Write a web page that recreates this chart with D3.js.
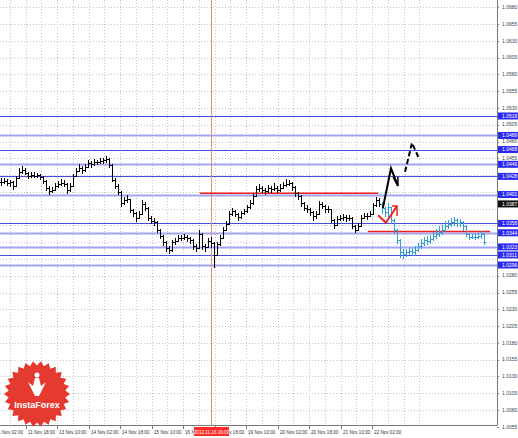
<!DOCTYPE html>
<html><head><meta charset="utf-8">
<script src="https://cdn.jsdelivr.net/npm/d3@7"></script>
<style>body{margin:0;background:#fff}svg{display:block}text{font-family:"Liberation Sans",Arial,sans-serif}</style>
</head><body><svg id="c" width="518" height="438"></svg>
<script>
// ---------- DATA ----------
const histClose = [1.0420,1.0421,1.0418,1.0420,1.0414,1.0426,1.0435,1.0437,1.0433,1.0429,1.0430,1.0429,1.0430,1.0427,1.0421,1.0411,1.0406,1.0408,1.0414,1.0417,1.0418,1.0417,1.0408,1.0414,1.0429,1.0436,1.0440,1.0437,1.0442,1.0448,1.0446,1.0449,1.0449,1.0451,1.0452,1.0454,1.0445,1.0423,1.0414,1.0405,1.0388,1.0393,1.0394,1.0378,1.0373,1.0366,1.0372,1.0387,1.0381,1.0366,1.0362,1.0360,1.0348,1.0339,1.0330,1.0321,1.0318,1.0330,1.0332,1.0336,1.0336,1.0338,1.0336,1.0333,1.0324,1.0321,1.0342,1.0324,1.0323,1.0332,1.0329,1.0311,1.0327,1.0336,1.0348,1.0357,1.0372,1.0376,1.0372,1.0367,1.0373,1.0376,1.0382,1.0388,1.0399,1.0409,1.0411,1.0408,1.0406,1.0411,1.0409,1.0411,1.0408,1.0411,1.0415,1.0417,1.0418,1.0412,1.0403,1.0399,1.0388,1.0381,1.0379,1.0375,1.0369,1.0372,1.0387,1.0384,1.0379,1.0379,1.0363,1.0356,1.0365,1.0366,1.0367,1.0366,1.0366,1.0354,1.0348,1.0354,1.0366,1.0369,1.0369,1.0372,1.0385,1.0393,1.0387];
const histHigh = [1.0426,1.0425,1.0424,1.0423,1.0421,1.0429,1.0440,1.0443,1.0441,1.0435,1.0434,1.0435,1.0433,1.0432,1.0428,1.0422,1.0413,1.0412,1.0418,1.0421,1.0424,1.0422,1.0418,1.0418,1.0432,1.0441,1.0446,1.0443,1.0447,1.0452,1.0451,1.0454,1.0453,1.0456,1.0455,1.0459,1.0456,1.0446,1.0425,1.0416,1.0406,1.0397,1.0400,1.0395,1.0380,1.0375,1.0377,1.0393,1.0390,1.0382,1.0369,1.0366,1.0362,1.0350,1.0341,1.0332,1.0325,1.0333,1.0336,1.0340,1.0341,1.0342,1.0341,1.0338,1.0335,1.0327,1.0348,1.0343,1.0328,1.0336,1.0337,1.0330,1.0331,1.0340,1.0352,1.0361,1.0376,1.0381,1.0378,1.0374,1.0377,1.0380,1.0386,1.0393,1.0403,1.0414,1.0416,1.0414,1.0411,1.0415,1.0414,1.0418,1.0413,1.0416,1.0420,1.0424,1.0422,1.0420,1.0414,1.0405,1.0400,1.0390,1.0385,1.0381,1.0377,1.0376,1.0391,1.0390,1.0386,1.0384,1.0380,1.0365,1.0369,1.0371,1.0372,1.0371,1.0370,1.0367,1.0356,1.0358,1.0370,1.0374,1.0373,1.0377,1.0389,1.0398,1.0396];
const histLow = [1.0414,1.0416,1.0413,1.0412,1.0408,1.0413,1.0424,1.0432,1.0430,1.0424,1.0425,1.0426,1.0425,1.0422,1.0417,1.0407,1.0401,1.0403,1.0406,1.0411,1.0414,1.0412,1.0402,1.0405,1.0413,1.0427,1.0434,1.0432,1.0435,1.0440,1.0441,1.0443,1.0445,1.0446,1.0447,1.0448,1.0440,1.0419,1.0409,1.0400,1.0382,1.0385,1.0388,1.0373,1.0367,1.0360,1.0364,1.0370,1.0376,1.0361,1.0357,1.0354,1.0343,1.0334,1.0324,1.0315,1.0312,1.0316,1.0326,1.0330,1.0332,1.0333,1.0331,1.0328,1.0319,1.0315,1.0320,1.0319,1.0316,1.0321,1.0322,1.0291,1.0309,1.0325,1.0334,1.0346,1.0355,1.0369,1.0367,1.0361,1.0365,1.0370,1.0374,1.0380,1.0386,1.0398,1.0405,1.0403,1.0401,1.0404,1.0404,1.0406,1.0403,1.0405,1.0409,1.0412,1.0413,1.0407,1.0398,1.0393,1.0382,1.0376,1.0373,1.0369,1.0362,1.0365,1.0371,1.0379,1.0374,1.0373,1.0358,1.0350,1.0354,1.0361,1.0362,1.0360,1.0361,1.0349,1.0343,1.0346,1.0352,1.0364,1.0363,1.0367,1.0370,1.0383,1.0383];

const projClose = [1.0381,1.0375,1.0382,1.0363,1.0348,1.0333,1.0315,1.0312,1.0315,1.0317,1.0315,1.0318,1.0324,1.0329,1.0333,1.0332,1.0335,1.0339,1.0342,1.0345,1.0348,1.0354,1.0357,1.0360,1.0363,1.0359,1.0360,1.0354,1.0342,1.0338,1.0338,1.0338,1.0339,1.0342,1.0330];
const projHigh = [1.0390,1.0383,1.0389,1.0383,1.0365,1.0350,1.0335,1.0320,1.0320,1.0322,1.0321,1.0324,1.0329,1.0334,1.0338,1.0339,1.0341,1.0345,1.0349,1.0354,1.0356,1.0361,1.0363,1.0366,1.0368,1.0366,1.0365,1.0362,1.0356,1.0344,1.0342,1.0343,1.0344,1.0347,1.0343];
const projLow = [1.0372,1.0368,1.0366,1.0357,1.0342,1.0327,1.0306,1.0305,1.0308,1.0311,1.0309,1.0310,1.0315,1.0320,1.0325,1.0326,1.0328,1.0332,1.0335,1.0338,1.0341,1.0345,1.0349,1.0352,1.0354,1.0352,1.0353,1.0347,1.0337,1.0333,1.0334,1.0333,1.0334,1.0335,1.0326];

const levelValues = [1.0518,1.0489,1.0468,1.0446,1.0428,1.0401,1.0358,1.0344,1.0323,1.0311,1.0296];
const levelLabels = ["1.0518","1.0489","1.0468","1.0446","1.0428","1.0401","1.0358","1.0344","1.0323","1.0311","1.0296"];
const levelStrong = [false,true,false,true,false,true,false,true,true,false,true];

const currentPrice = 1.0387;
const currentLabel = "1.0387";

const yTickLabels = ["1.0680","1.0655","1.0630","1.0605","1.0580","1.0555","1.0530","1.0505","1.0480","1.0455","1.0430","1.0405","1.0380","1.0355","1.0330","1.0305","1.0280","1.0255","1.0230","1.0205","1.0180","1.0155","1.0130","1.0105","1.0080","1.0055"];
const xTickLabels = ["11 Nov 02:00","11 Nov 18:00","13 Nov 10:00","14 Nov 02:00","14 Nov 18:00","15 Nov 10:00","16 Nov 02:00","16 Nov 18:00","19 Nov 10:00","20 Nov 02:00","20 Nov 18:00","21 Nov 10:00","22 Nov 02:00"];
const firstTickBar = -2.33, barsPerTick = 10.5;   // 16 hours per tick
const markerLabel = "2012.11.16 16:00";
const markerHoursAfterTick = 14, markerTickIndex = 6;

// red support / resistance segments [barFrom, barTo, price]
const redLevels = [[66.3,125.7,1.0403],[122.3,163,1.0346]];
// annotation arrows as [bar, price]
const blackArrow = [[127.3,1.0381],[130,1.0440],[132.3,1.0414]];
const blackArrowHead = [[130.7,1.0427],[132.3,1.0414],[132.3,1.0427]];
const dashedArrow = [[134.7,1.0435],[137,1.0478],[139.3,1.0455]];
const redArrow = [[125.7,1.0370],[128.3,1.0359],[132,1.0384]];
const redArrowHead = [[130.3,1.0384],[132,1.0384],[132,1.0369]];

// ---------- CHART ----------
const W = 518, H = 438, PW = 497, PH = 425;
const svg = d3.select("#c");
const x = d3.scaleLinear().domain([0,165]).range([1,496]);
const y = d3.scaleLinear().domain([1.0296,1.0518]).range([265,116]);

svg.append("rect").attr("width",W).attr("height",H).attr("fill","#fff");
svg.append("clipPath").attr("id","clip").append("rect").attr("width",PW).attr("height",PH);
const plot = svg.append("g").attr("clip-path","url(#clip)");

// grid
const gridG = plot.append("g").attr("stroke","#c4c4c4").attr("stroke-dasharray","1,2").attr("stroke-width",1);
yTickLabels.forEach(t => {
  const yy = Math.round(y(+t)) + 0.5;
  gridG.append("line").attr("x1",0).attr("x2",PW).attr("y1",yy).attr("y2",yy);
});
xTickLabels.forEach((t,k) => {
  [0, 0.5].forEach(f => {
    const xx = Math.round(x(firstTickBar + (k+f)*barsPerTick)) + 0.5;
    gridG.append("line").attr("x1",xx).attr("x2",xx).attr("y1",0).attr("y2",PH);
  });
});
{
  const xx = Math.round(x(firstTickBar + (xTickLabels.length)*barsPerTick)) + 0.5;
  gridG.append("line").attr("x1",xx).attr("x2",xx).attr("y1",0).attr("y2",PH);
  const xx2 = Math.round(x(firstTickBar + (xTickLabels.length+0.5)*barsPerTick)) + 0.5;
  gridG.append("line").attr("x1",xx2).attr("x2",xx2).attr("y1",0).attr("y2",PH);
}

// blue horizontal levels
levelValues.forEach((v,i) => {
  const yy = Math.round(y(v)) + 0.5;
  plot.append("line").attr("x1",0).attr("x2",PW).attr("y1",yy).attr("y2",yy)
    .attr("stroke", levelStrong[i] ? "#a3a3f2" : "#4a4ae0")
    .attr("stroke-width", levelStrong[i] ? 2 : 1);
});

// vertical marker line
const markerBar = firstTickBar + (markerTickIndex + markerHoursAfterTick/16)*barsPerTick;
const mx = Math.round(x(markerBar)) + 0.5;
plot.append("line").attr("x1",mx).attr("x2",mx).attr("y1",0).attr("y2",PH)
  .attr("stroke","#e0907a").attr("stroke-width",1);

// red levels
redLevels.forEach(([a,b,v]) => {
  plot.append("line").attr("x1",x(a)).attr("x2",x(b)).attr("y1",y(v)).attr("y2",y(v))
    .attr("stroke","#f02020").attr("stroke-width",1.6);
});

// OHLC bars
function drawBars(close, high, low, offset, color, prevClose) {
  const g = plot.append("g").attr("stroke",color).attr("stroke-width",1).attr("shape-rendering","crispEdges");
  close.forEach((c,i) => {
    const xi = Math.round(x(offset+i)) + 0.5;
    const o = i === 0 ? prevClose : close[i-1];
    g.append("line").attr("x1",xi).attr("x2",xi).attr("y1",y(high[i])).attr("y2",y(low[i]));
    g.append("line").attr("x1",xi-1.5).attr("x2",xi).attr("y1",Math.round(y(o))+0.5).attr("y2",Math.round(y(o))+0.5);
    g.append("line").attr("x1",xi).attr("x2",xi+1.5).attr("y1",Math.round(y(c))+0.5).attr("y2",Math.round(y(c))+0.5);
  });
}
drawBars(histClose, histHigh, histLow, 0, "#000", histClose[0]);
drawBars(projClose, projHigh, projLow, histClose.length, "#2f9fd0", histClose[histClose.length-1]);

// annotations
const line = d3.line().x(d => x(d[0])).y(d => y(d[1]));
plot.append("path").attr("d",line(blackArrow)).attr("fill","none").attr("stroke","#000").attr("stroke-width",2);
plot.append("path").attr("d",line(blackArrowHead)).attr("fill","none").attr("stroke","#000").attr("stroke-width",1.5);
plot.append("path").attr("d",line(dashedArrow)).attr("fill","none").attr("stroke","#000").attr("stroke-width",2).attr("stroke-dasharray","5,3");
plot.append("path").attr("d",line(redArrow)).attr("fill","none").attr("stroke","#f02020").attr("stroke-width",2);
plot.append("path").attr("d",line(redArrowHead)).attr("fill","none").attr("stroke","#f02020").attr("stroke-width",1.5);

// axes lines
svg.append("line").attr("x1",PW+0.5).attr("x2",PW+0.5).attr("y1",0).attr("y2",PH+0.5).attr("stroke","#777");
svg.append("line").attr("x1",0).attr("x2",PW+0.5).attr("y1",PH+0.5).attr("y2",PH+0.5).attr("stroke","#777");

// right axis labels
const boxYs = levelValues.map(v => y(v)).concat([y(currentPrice)]);
const yAx = svg.append("g");
yTickLabels.forEach(t => {
  const yy = y(+t);
  if (boxYs.some(b => Math.abs(b - yy) < 5)) return;
  yAx.append("line").attr("x1",PW).attr("x2",PW+2).attr("y1",Math.round(yy)+0.5).attr("y2",Math.round(yy)+0.5).attr("stroke","#777");
  yAx.append("text").attr("x",502).attr("y",yy).attr("dy","0.35em").attr("font-size",5).attr("fill","#444").text(t);
});
levelValues.forEach((v,i) => {
  const yy = y(v);
  yAx.append("rect").attr("x",PW+1).attr("y",yy-3.5).attr("width",20).attr("height",7).attr("fill","#2b2bf0");
  yAx.append("text").attr("x",502).attr("y",yy).attr("dy","0.35em").attr("font-size",5).attr("fill","#fff").text(levelLabels[i]);
});
{
  const yy = y(currentPrice);
  yAx.append("rect").attr("x",PW+1).attr("y",yy-3.5).attr("width",20).attr("height",7).attr("fill","#111");
  yAx.append("text").attr("x",502).attr("y",yy).attr("dy","0.35em").attr("font-size",5).attr("fill","#fff").text(currentLabel);
}

// bottom axis labels
const xAx = svg.append("g");
xTickLabels.forEach((t,k) => {
  const xx = Math.round(x(firstTickBar + k*barsPerTick)) + 0.5;
  xAx.append("line").attr("x1",xx).attr("x2",xx).attr("y1",PH).attr("y2",PH+4).attr("stroke","#777");
  xAx.append("text").attr("x",xx+1.5).attr("y",434).attr("font-size",4.6).attr("fill","#333").text(t);
});
xAx.append("rect").attr("x",mx-17.5).attr("y",427).attr("width",35).attr("height",9).attr("fill","#ff2a2a");
xAx.append("text").attr("x",mx).attr("y",434).attr("text-anchor","middle").attr("font-size",4.6).attr("fill","#fff").text(markerLabel);

// InstaForex logo
const logo = svg.append("g").attr("transform","translate(37,394)");
const pts = [];
const nSpikes = 26;
for (let k=0;k<nSpikes*2;k++){
  const r = k%2===0 ? 33 : 28.5;
  const a = Math.PI*k/nSpikes;
  pts.push([r*Math.cos(a), r*Math.sin(a)]);
}
logo.append("polygon").attr("points",pts.map(p=>p.join(",")).join(" ")).attr("fill","#e8352e");
logo.append("circle").attr("r",28).attr("fill","#e43a30");
logo.append("path").attr("d","M-2,-16 L2,-16 L4,-8 L9,-12 L5,-4 L2,2 L-2,2 L-5,-4 L-9,-12 L-4,-8 Z").attr("fill","#fff");
logo.append("circle").attr("cx",0).attr("cy",-19).attr("r",2.5).attr("fill","#fff");
logo.append("text").attr("x",0).attr("y",14).attr("text-anchor","middle").attr("font-size",9).attr("font-weight","bold").attr("fill","#fff").text("InstaForex");
</script></body></html>
